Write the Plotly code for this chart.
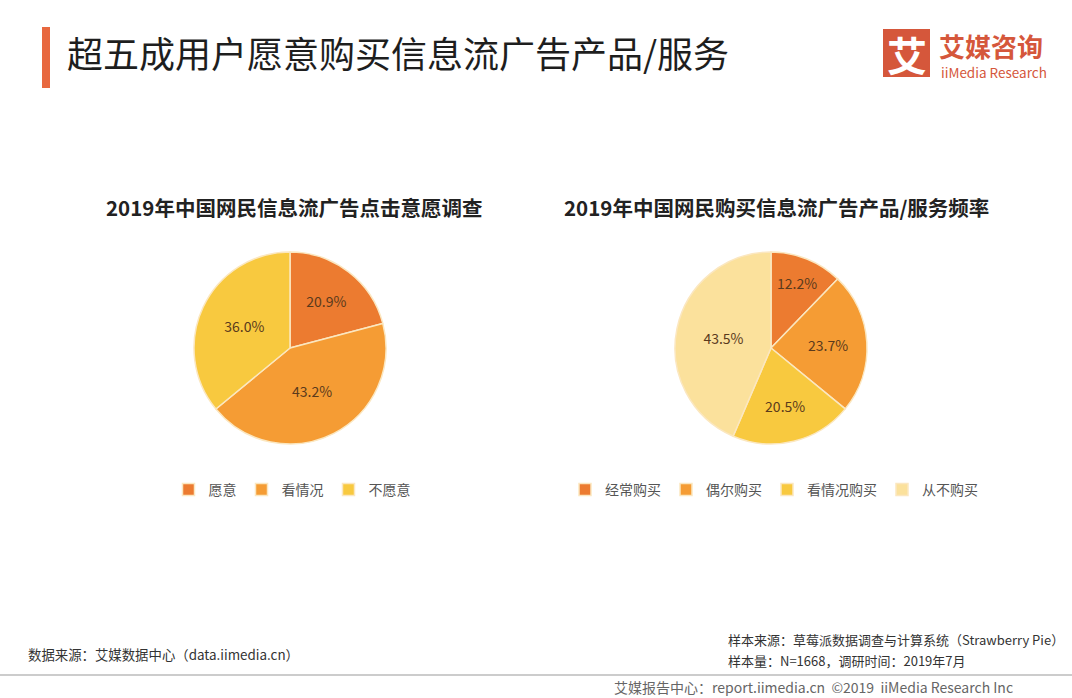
import plotly.graph_objects as go

# Data
left_labels = ["愿意", "看情况", "不愿意"]
left_values = [20.9, 43.2, 36.0]
right_labels = ["经常购买", "偶尔购买", "看情况购买", "从不购买"]
right_values = [12.2, 23.7, 20.5, 43.5]

left_colors = ["#EC7B30", "#F59C34", "#F8C93F"]
right_colors = ["#EC7B30", "#F59C34", "#F8C93F", "#FBE19C"]

W, H = 1072, 698
FONT = "Noto Sans CJK SC"

def px_x(x):
    return x / W

def px_y(y):
    return 1 - y / H

fig = go.Figure()

r = 96
lc = (290, 348)
rc = (771, 348)

fig.add_trace(go.Pie(
    labels=left_labels, values=left_values,
    sort=False, direction="clockwise", rotation=0,
    marker=dict(colors=left_colors, line=dict(color="#FBE7C0", width=1.5)),
    texttemplate="%{value:.1f}%", textposition="inside", insidetextorientation="horizontal",
    textfont=dict(family=FONT, size=14, color="#5A3A1C"),
    domain=dict(x=[px_x(lc[0] - r), px_x(lc[0] + r)], y=[px_y(lc[1] + r), px_y(lc[1] - r)]),
    legend="legend", hoverinfo="label+percent",
))
fig.add_trace(go.Pie(
    labels=right_labels, values=right_values,
    sort=False, direction="clockwise", rotation=0,
    marker=dict(colors=right_colors, line=dict(color="#FBE7C0", width=1.5)),
    texttemplate="%{value:.1f}%", textposition="inside", insidetextorientation="horizontal",
    textfont=dict(family=FONT, size=14, color="#5A3A1C"),
    domain=dict(x=[px_x(rc[0] - r), px_x(rc[0] + r)], y=[px_y(rc[1] + r), px_y(rc[1] - r)]),
    legend="legend2", hoverinfo="label+percent",
))

anns = []
anns.append(dict(text="超五成用户愿意购买信息流广告产品/服务", x=px_x(65), y=px_y(52), xanchor="left", yanchor="middle",
                 font=dict(family=FONT, size=36, color="#1E1E1E")))
anns.append(dict(text="<b>2019年中国网民信息流广告点击意愿调查</b>", x=px_x(294), y=px_y(207), xanchor="center", yanchor="middle",
                 font=dict(family=FONT, size=20.5, color="#222222")))
anns.append(dict(text="<b>2019年中国网民购买信息流广告产品/服务频率</b>", x=px_x(776), y=px_y(207), xanchor="center", yanchor="middle",
                 font=dict(family=FONT, size=20.5, color="#222222")))
# logo
anns.append(dict(text="<b>艾</b>", x=px_x(906.5), y=px_y(54), xanchor="center", yanchor="middle",
                 font=dict(family=FONT, size=40, color="#FFFFFF")))
anns.append(dict(text="<b>艾媒咨询</b>", x=px_x(937), y=px_y(45), xanchor="left", yanchor="middle",
                 font=dict(family=FONT, size=26, color="#D5573B"), height=30))
anns.append(dict(text="iiMedia Research", x=px_x(939), y=px_y(72), xanchor="left", yanchor="middle",
                 font=dict(family=FONT, size=13.5, color="#D5573B"), height=16))
# footer
anns.append(dict(text="数据来源：艾媒数据中心（data.iimedia.cn）", x=px_x(26), y=px_y(654), xanchor="left", yanchor="middle",
                 font=dict(family=FONT, size=13.4, color="#333333")))
anns.append(dict(text="样本来源：草莓派数据调查与计算系统（Strawberry Pie）", x=px_x(726), y=px_y(639), xanchor="left", yanchor="middle",
                 font=dict(family=FONT, size=13, color="#333333")))
anns.append(dict(text="样本量：N=1668，调研时间：2019年7月", x=px_x(726), y=px_y(660), xanchor="left", yanchor="middle",
                 font=dict(family=FONT, size=13, color="#333333")))
anns.append(dict(text="艾媒报告中心：report.iimedia.cn  ©2019  iiMedia Research Inc", x=px_x(612), y=px_y(687), xanchor="left", yanchor="middle",
                 font=dict(family=FONT, size=14, color="#666666"), height=18))

shapes = [
    dict(type="rect", xref="paper", yref="paper", x0=px_x(42), x1=px_x(50), y0=px_y(88), y1=px_y(27),
         fillcolor="#E8683F", line=dict(width=0)),
    dict(type="rect", xref="paper", yref="paper", x0=px_x(883), x1=px_x(930), y0=px_y(77), y1=px_y(29),
         fillcolor="#D5573B", line=dict(width=0)),
    dict(type="line", xref="paper", yref="paper", x0=0, x1=1, y0=px_y(675), y1=px_y(675),
         line=dict(color="#9A9A9A", width=1.2)),
]

fig.update_layout(
    width=W, height=H,
    margin=dict(l=0, r=0, t=0, b=0),
    paper_bgcolor="#FFFFFF", plot_bgcolor="#FFFFFF",
    font=dict(family=FONT),
    annotations=[dict(a, xref="paper", yref="paper", showarrow=False) for a in anns],
    shapes=shapes,
    legend=dict(orientation="h", x=px_x(292), y=px_y(490), xanchor="center", yanchor="middle",
                font=dict(family=FONT, size=14, color="#555555"), itemwidth=30, tracegroupgap=0,
                bgcolor="rgba(0,0,0,0)"),
    legend2=dict(orientation="h", x=px_x(774), y=px_y(490), xanchor="center", yanchor="middle",
                 font=dict(family=FONT, size=14, color="#555555"), itemwidth=30, tracegroupgap=0,
                 bgcolor="rgba(0,0,0,0)"),
    showlegend=True,
)

fig.write_html("out.html", config={"displayModeBar": False},
               post_script="document.body.style.margin='0';document.body.style.padding='0';")
